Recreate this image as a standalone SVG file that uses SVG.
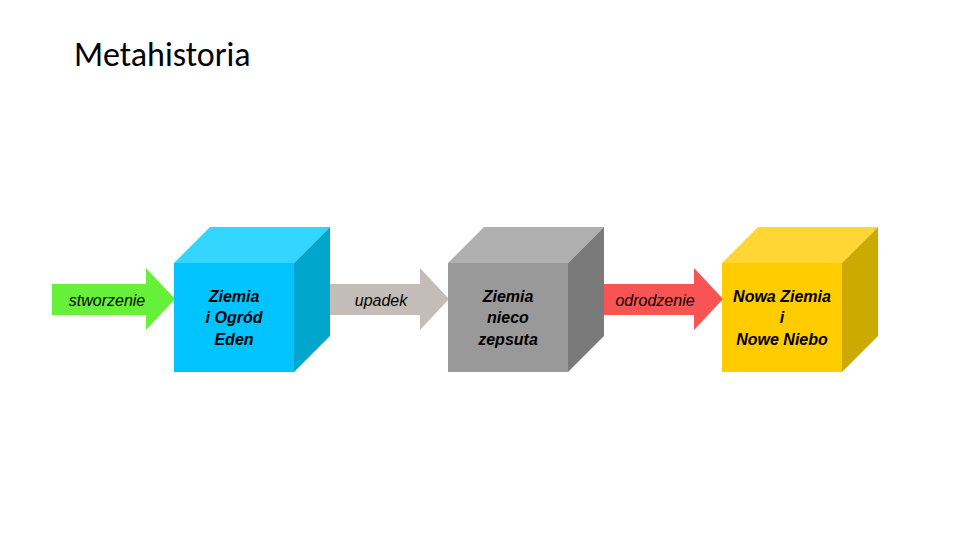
<svg xmlns="http://www.w3.org/2000/svg" width="960" height="540" viewBox="0 0 960 540">
<style>
.t{font-family:"Liberation Sans",Arial,sans-serif;font-style:italic;font-size:16px;fill:#000}
.b{font-weight:bold}
.title{font-family:Calibri,"Carlito","Liberation Sans",sans-serif;font-size:34px;fill:#000}
</style>
<rect width="960" height="540" fill="#fff"/>
<text class="title" x="74" y="66">Metahistoria</text>
<g id="connectors">
<polygon points="52,284 146,284 146,268 175,299 146,330 146,315 52,315" fill="#66f03a"/>
<polygon points="326,284 420,284 420,268 449,299 420,330 420,315 326,315" fill="#c4bdb7"/>
<polygon points="600,284 694,284 694,268 723,299 694,330 694,315 600,315" fill="#f85454"/>
<text class="t" x="107" y="306" text-anchor="middle">stworzenie</text>
<text class="t" x="381" y="306" text-anchor="middle">upadek</text>
<text class="t" x="655" y="306" text-anchor="middle">odrodzenie</text>
</g>
<g id="cube1">
<polygon points="174,263 210,227 330,227 294,263" fill="#33d6ff"/>
<polygon points="294,263 330,227 330,336 294,372" fill="#00a6cc"/>
<rect x="174" y="263" width="120" height="109" fill="#00c3ff"/>
<text class="t b" text-anchor="middle"><tspan x="234" y="302">Ziemia</tspan><tspan x="234" y="323">i Ogród</tspan><tspan x="234" y="345">Eden</tspan></text>
</g>
<g id="cube2">
<polygon points="448,263 484,227 604,227 568,263" fill="#b0b0b0"/>
<polygon points="568,263 604,227 604,336 568,372" fill="#7a7a7a"/>
<rect x="448" y="263" width="120" height="109" fill="#999999"/>
<text class="t b" text-anchor="middle"><tspan x="508" y="302">Ziemia</tspan><tspan x="508" y="323">nieco</tspan><tspan x="508" y="345">zepsuta</tspan></text>
</g>
<g id="cube3">
<polygon points="722,263 758,227 878,227 842,263" fill="#ffd633"/>
<polygon points="842,263 878,227 878,336 842,372" fill="#ccaa00"/>
<rect x="722" y="263" width="120" height="109" fill="#ffcc00"/>
<text class="t b" text-anchor="middle"><tspan x="782" y="302">Nowa Ziemia</tspan><tspan x="782" y="323">i</tspan><tspan x="782" y="345">Nowe Niebo</tspan></text>
</g>
</svg>
